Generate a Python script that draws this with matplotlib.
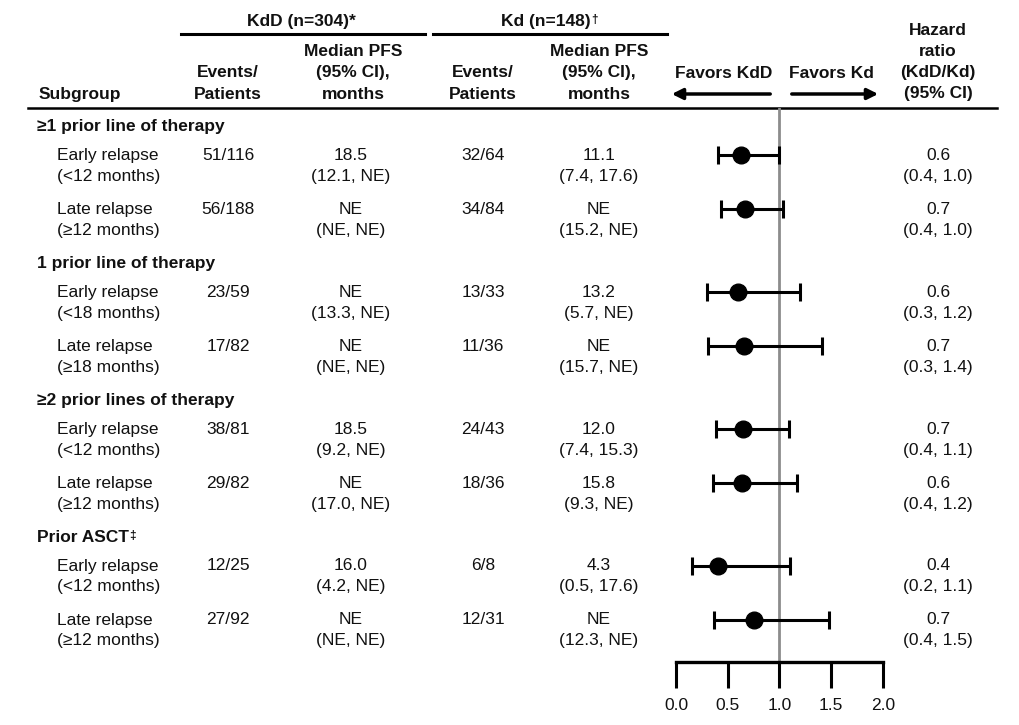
import matplotlib
matplotlib.use("Agg")
import matplotlib.pyplot as plt

plt.rcParams["font.family"] = ["Liberation Sans", "DejaVu Sans"]

# ---------------------------------------------------------------------------
# Data
# ---------------------------------------------------------------------------
groups = ["≥1 prior line of therapy", "1 prior line of therapy",
          "≥2 prior lines of therapy", "Prior ASCT"]
group_marks = ["", "", "", "‡"]
sub_top = ["Early relapse", "Late relapse"] * 4
sub_bottom = ["(<12 months)", "(≥12 months)", "(<18 months)", "(≥18 months)",
              "(<12 months)", "(≥12 months)", "(<12 months)", "(≥12 months)"]
kdd_events = ["51/116", "56/188", "23/59", "17/82", "38/81", "29/82", "12/25", "27/92"]
kdd_pfs = ["18.5", "NE", "NE", "NE", "18.5", "NE", "16.0", "NE"]
kdd_ci = ["(12.1, NE)", "(NE, NE)", "(13.3, NE)", "(NE, NE)",
          "(9.2, NE)", "(17.0, NE)", "(4.2, NE)", "(NE, NE)"]
kd_events = ["32/64", "34/84", "13/33", "11/36", "24/43", "18/36", "6/8", "12/31"]
kd_pfs = ["11.1", "NE", "13.2", "NE", "12.0", "15.8", "4.3", "NE"]
kd_ci = ["(7.4, 17.6)", "(15.2, NE)", "(5.7, NE)", "(15.7, NE)",
         "(7.4, 15.3)", "(9.3, NE)", "(0.5, 17.6)", "(12.3, NE)"]
hr_text = ["0.6", "0.7", "0.6", "0.7", "0.7", "0.6", "0.4", "0.7"]
hr_ci_text = ["(0.4, 1.0)", "(0.4, 1.0)", "(0.3, 1.2)", "(0.3, 1.4)",
              "(0.4, 1.1)", "(0.4, 1.2)", "(0.2, 1.1)", "(0.4, 1.5)"]
hr_point = [0.63, 0.67, 0.60, 0.66, 0.65, 0.64, 0.41, 0.75]
hr_low = [0.41, 0.43, 0.30, 0.31, 0.39, 0.36, 0.15, 0.37]
hr_high = [1.00, 1.03, 1.20, 1.41, 1.09, 1.17, 1.10, 1.48]
x_ticks = [0.0, 0.5, 1.0, 1.5, 2.0]

# ---------------------------------------------------------------------------
# Layout (pixel units, y from top)
# ---------------------------------------------------------------------------
W, H = 1020, 725
FS = 12.5
TXT = "#111111"
group_y = [126 + 137 * g for g in range(4)]
row_y = []
for g in group_y:
    row_y += [g + 29, g + 83]
LINE2 = 21
X_GROUP, X_SUB = 37, 57
X_KDD_EV, X_KDD_PFS, X_KD_EV, X_KD_PFS, X_HR = 228, 351, 483, 599, 938

fig = plt.figure(figsize=(W / 100, H / 100), dpi=100)
ax = fig.add_axes([0, 0, 1, 1])
ax.set_xlim(0, W)
ax.set_ylim(H, 0)
ax.axis("off")

def t(x, y, s, ha="center", bold=False):
    return ax.text(x, y, s, ha=ha, va="center", fontsize=FS, color=TXT,
                   fontweight="bold" if bold else "normal")

def sup(txt, s):
    # small raised footnote mark right after a text
    ax.annotate(s, xy=(1.0, 1.0), xycoords=txt, xytext=(0.3, -0.5), textcoords="offset points",
                ha="left", va="top", fontsize=8.5, fontweight="bold", color=TXT)

# header
t(301, 21, "KdD (n=304)*", bold=True)
sup(t(546, 21, "Kd (n=148)", bold=True), "†")
ax.plot([181, 425], [34, 34], color="black", lw=2.2)
ax.plot([433, 667], [34, 34], color="black", lw=2.2)
t(39, 94, "Subgroup", ha="left", bold=True)
for cx in (X_KDD_EV, X_KD_EV):
    t(cx, 72, "Events/", bold=True)
    t(cx, 94, "Patients", bold=True)
for cx in (X_KDD_PFS + 2, X_KD_PFS):
    t(cx, 51, "Median PFS", bold=True)
    t(cx, 72, "(95% CI),", bold=True)
    t(cx, 94, "months", bold=True)
for i, s in enumerate(["Hazard", "ratio", "(KdD/Kd)", "(95% CI)"]):
    t(X_HR, 30 + 21 * i, s, bold=True)
t(724, 73, "Favors KdD", bold=True)
t(831, 73, "Favors Kd", bold=True)
ax.annotate("", xy=(669, 94), xytext=(773, 94),
            arrowprops=dict(arrowstyle="-|>", lw=2.5, color="black", mutation_scale=16))
ax.annotate("", xy=(881, 94), xytext=(789, 94),
            arrowprops=dict(arrowstyle="-|>", lw=2.5, color="black", mutation_scale=16))
ax.plot([28, 997], [108, 108], color="black", lw=1.8)

# body
for g, m, gy in zip(groups, group_marks, group_y):
    gt = t(X_GROUP, gy, g, ha="left", bold=True)
    if m:
        sup(gt, m)
for i, y in enumerate(row_y):
    t(X_SUB, y, sub_top[i], ha="left")
    t(X_SUB, y + LINE2, sub_bottom[i], ha="left")
    t(X_KDD_EV, y, kdd_events[i])
    t(X_KDD_PFS, y, kdd_pfs[i])
    t(X_KDD_PFS, y + LINE2, kdd_ci[i])
    t(X_KD_EV, y, kd_events[i])
    t(X_KD_PFS, y, kd_pfs[i])
    t(X_KD_PFS, y + LINE2, kd_ci[i])
    t(X_HR, y, hr_text[i])
    t(X_HR, y + LINE2, hr_ci_text[i])

# forest plot
x0, x1, ytop, ybot = 676, 883, 108, 662
axf = fig.add_axes([x0 / W, (H - ybot) / H, (x1 - x0) / W, (ybot - ytop) / H])
axf.set_xlim(0, 2)
axf.set_ylim(ybot, ytop)
axf.patch.set_alpha(0)
axf.axvline(1.0, color="#8c8c8c", lw=2, zorder=1)
err = [[p - l for p, l in zip(hr_point, hr_low)], [h - p for p, h in zip(hr_point, hr_high)]]
axf.errorbar(hr_point, row_y, xerr=err, fmt="o", color="black", ms=12,
             elinewidth=2.2, capsize=6.5, capthick=2.2, zorder=3)
for s in ("top", "right", "left"):
    axf.spines[s].set_visible(False)
axf.spines["bottom"].set_linewidth(2.4)
axf.spines["bottom"].set_capstyle("projecting")
axf.set_yticks([])
axf.set_xticks(x_ticks)
axf.set_xticklabels([f"{v:.1f}" for v in x_ticks])
axf.tick_params(axis="x", direction="out", length=19, width=2.2, pad=7,
                labelsize=FS, labelcolor=TXT)

fig.savefig("out.png", dpi=100)
